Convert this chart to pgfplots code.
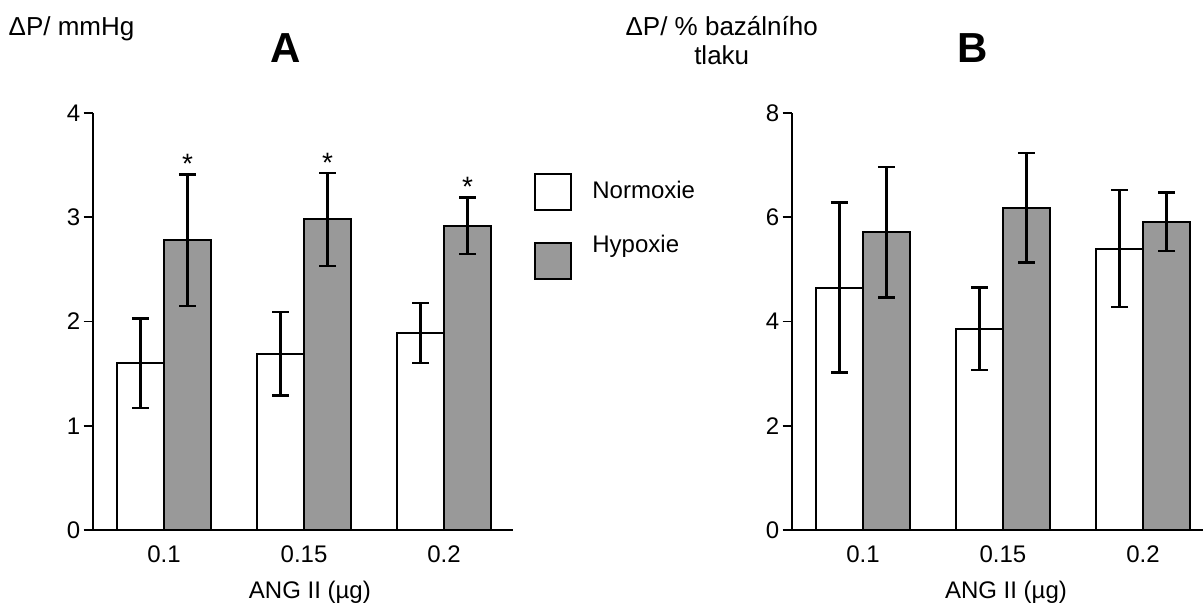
\documentclass[border=0pt]{standalone}
\usepackage{fontspec}
\setmainfont{Liberation Sans}
\usepackage{pgfplots}
\pgfplotsset{compat=1.18}
\definecolor{hyp}{gray}{0.6}
\pgfplotsset{
  mylegend/.style={legend image code/.code={\draw[##1,line width=1bp] (0bp,-9bp) rectangle (18bp,9bp);}},
  panel/.style={
    scale only axis, anchor=south west,
    height=208.5bp,
    ybar=0pt, bar width=23.5bp,
    axis x line=bottom, axis y line=left,
    axis line style={-, line width=0.9bp, black},
    xtick={0,1,2}, xticklabels={0.1,0.15,0.2},
    xmin=-0.509, ymin=0,
    enlargelimits=false,
    tick align=outside,
    major tick length=4.5bp,
    x tick style={draw=none},
    y tick style={line width=0.9bp, black},
    tick label style={font=\fontsize{12bp}{14bp}\selectfont},
    yticklabel style={inner sep=1.5bp},
    label style={font=\fontsize{12bp}{14bp}\selectfont},
    /pgf/number format/assume math mode=true,
    clip=false,
    xlabel={ANG II (µg)},
  },
  errstyle/.style={error bars/.cd, y dir=both, y explicit,
    error bar style={line width=1.2bp, black},
    error mark options={rotate=90, mark size=4.25bp, line width=1.2bp, black}},
  normbar/.style={draw=black, fill=white, line width=1bp, mylegend, errstyle},
  hypbar/.style={draw=black, fill=hyp, line width=1bp, mylegend, errstyle},
}
\begin{document}
\begin{tikzpicture}
\useasboundingbox (0,0) rectangle (601.5bp,301.5bp);
% Panel A
\begin{axis}[panel,
  at={(46.35bp,36.5bp)}, width=210bp,
  xmax=2.49, ymax=4, ytick={0,1,2,3,4},
  xlabel style={at={(axis description cs:0.517,0)}, anchor=base, yshift=-34bp},
  legend style={draw=none, fill=none, at={(1,1)}, anchor=north west,
    xshift=10.65bp, yshift=-29.65bp, inner sep=0pt, row sep=15.75bp,
    column sep=10bp, nodes={inner sep=0pt}, font=\fontsize{12bp}{14bp}\selectfont},
  legend cell align=left,
]
\addplot[normbar] coordinates {(0,1.60) +- (0,0.43) (1,1.69) +- (0,0.40) (2,1.89) +- (0,0.29)};
\addplot[hypbar] coordinates {(0,2.78) +- (0,0.63) (1,2.98) +- (0,0.445) (2,2.92) +- (0,0.27)};
\addlegendentry{Normoxie}
\addlegendentry{\raisebox{8bp}[\height][\depth]{Hypoxie}}
\node[anchor=south, inner sep=0pt, xshift=11.75bp, yshift=0.2bp, font=\fontsize{14bp}{15bp}\selectfont] at (axis cs:0,3.41) {*};
\node[anchor=south, inner sep=0pt, xshift=11.75bp, yshift=0.2bp, font=\fontsize{14bp}{15bp}\selectfont] at (axis cs:1,3.425) {*};
\node[anchor=south, inner sep=0pt, xshift=11.75bp, yshift=0.2bp, font=\fontsize{14bp}{15bp}\selectfont] at (axis cs:2,3.19) {*};
\end{axis}
% Panel B
\begin{axis}[panel,
  at={(395.85bp,36.5bp)}, width=205.65bp,
  xmax=2.4286, ymax=8, ytick={0,2,4,6,8},
  xlabel style={at={(axis description cs:0.521,0)}, anchor=base, yshift=-34bp},
]
\addplot[normbar] coordinates {(0,4.65) +- (0,1.63) (1,3.86) +- (0,0.79) (2,5.40) +- (0,1.12)};
\addplot[hypbar] coordinates {(0,5.71) +- (0,1.25) (1,6.18) +- (0,1.05) (2,5.915) +- (0,0.56)};
\end{axis}
% titles and axis captions
\node[anchor=base west, inner sep=0pt, font=\fontsize{13bp}{15bp}\selectfont] at (4.15bp,283.5bp) {ΔP/ mmHg};
\node[anchor=base, inner sep=0pt, font=\fontsize{21bp}{24bp}\selectfont\bfseries] at (143bp,270bp) {A};
\node[anchor=base, inner sep=0pt, font=\fontsize{21bp}{24bp}\selectfont\bfseries] at (486.5bp,270bp) {B};
\node[anchor=base, inner sep=0pt, font=\fontsize{13bp}{15bp}\selectfont] at (360.85bp,283.5bp) {ΔP/ \% bazálního};
\node[anchor=base, inner sep=0pt, font=\fontsize{13bp}{15bp}\selectfont] at (360.85bp,269bp) {tlaku};
\end{tikzpicture}
\end{document}
